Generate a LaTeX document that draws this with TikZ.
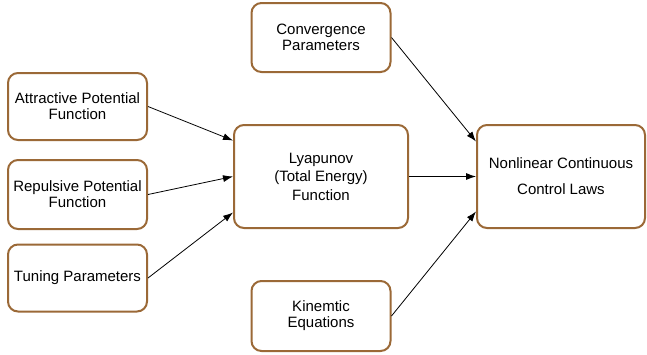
\documentclass[tikz,border=0pt]{standalone}
\usepackage{fontspec}
\setmainfont{Liberation Sans}
\usetikzlibrary{arrows,arrows.meta,positioning}
\definecolor{boxbrown}{RGB}{155,105,55}
\tikzset{%
	block/.style = {draw=boxbrown, line width=2pt, rectangle, rounded corners=10pt, fill=white, align=center, inner sep=0pt, font=\fontsize{15}{16}\selectfont},
	arrow/.style = {line width=0.8pt, -{Latex[length=10pt,width=7pt]}},
}

\begin{document}
\begin{tikzpicture}[x=1pt,y=-1pt]
	\useasboundingbox (0,0) rectangle (647,354);
	\node[block, minimum width=139pt, minimum height=67pt] (attr) at (77.5,106.5) {Attractive Potential\\Function};
	\node[block, minimum width=139pt, minimum height=69pt] (rep) at (77.5,194.5) {Repulsive Potential\\Function};
	\node[block, minimum width=139pt, minimum height=67pt] (tune) at (77.5,278) {Tuning Parameters};
	\node[block, minimum width=139pt, minimum height=69pt] (conv) at (321,37.5) {Convergence\\Parameters};
	\node[block, minimum width=139pt, minimum height=70pt] (kin) at (321,316) {Kinemtic\\Equations};
	\node[block, minimum width=174pt, minimum height=103pt, font=\fontsize{15}{18.5}\selectfont] (lyap) at (321,176.5) {Lyapunov\\(Total Energy)\\Function};
	\node[block, minimum width=168pt, minimum height=103pt, font=\fontsize{15}{26}\selectfont] (ctrl) at (561,176.5) {Nonlinear Continuous\\Control Laws};
	\draw[arrow] (attr.east) -- ([yshift=36pt]lyap.west);
	\draw[arrow] (rep.east) -- (lyap.west);
	\draw[arrow] (tune.east) -- ([yshift=-36pt]lyap.west);
	\draw[arrow] (lyap.east) -- (ctrl.west);
	\draw[arrow] (conv.east) -- ([yshift=35pt]ctrl.west);
	\draw[arrow] (kin.east) -- ([yshift=-35pt]ctrl.west);
\end{tikzpicture}
\end{document}
